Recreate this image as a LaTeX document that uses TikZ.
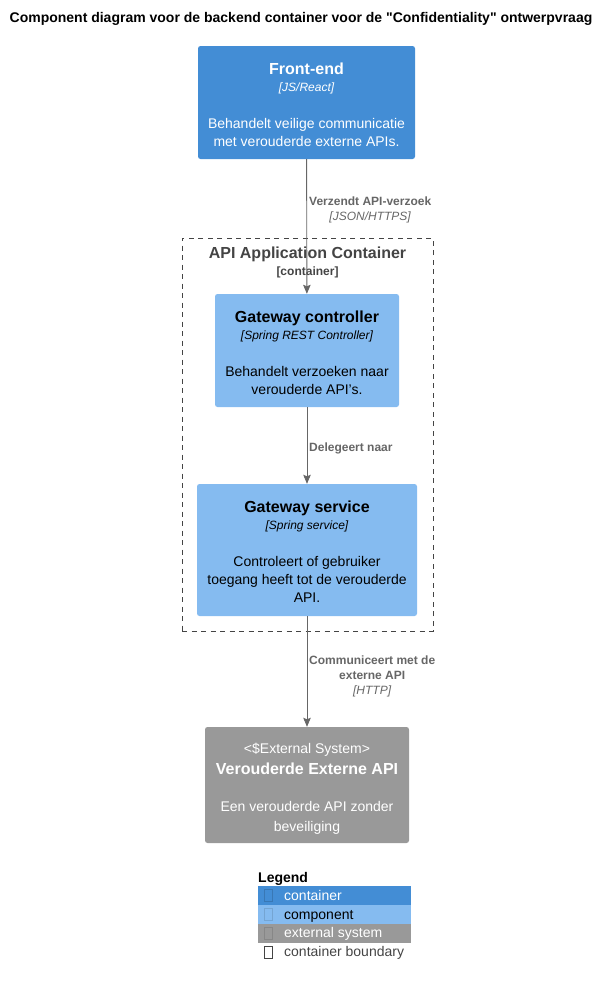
\documentclass[tikz,border=0pt]{standalone}
\usepackage{fontspec}
\setmainfont{Liberation Sans}
\usetikzlibrary{arrows.meta}
\definecolor{containerblue}{HTML}{438DD5}
\definecolor{componentblue}{HTML}{85BBF0}
\definecolor{extgray}{HTML}{999999}
\definecolor{relgray}{HTML}{666666}
\definecolor{boundgray}{HTML}{444444}

\newcommand{\topstrut}[1]{\rule{0pt}{#1}}
\newcommand{\elemtitle}[1]{{\fontsize{16}{18}\selectfont\bfseries #1}}
\newcommand{\elemtech}[1]{{\fontsize{12}{18}\selectfont\itshape [#1]}}

\begin{document}
\begin{tikzpicture}[x=1pt, y=-1pt,
	element/.style={rectangle, rounded corners=2.5pt, align=center, inner sep=0pt, font=\fontsize{14}{18}\selectfont},
	container/.style={element, fill=containerblue, text=white},
	component/.style={element, fill=componentblue, text=black},
	extsystem/.style={element, fill=extgray, text=white},
	boundary/.style={rectangle, draw=boundgray, dash pattern=on 5pt off 4.5pt, line width=0.8pt},
	rel/.style={draw=relgray, line width=0.9pt, -{Stealth[length=9pt, width=7.5pt, inset=1.5pt]}},
	rellabel/.style={anchor=west, text=relgray, align=center, inner sep=0pt, font=\fontsize{12}{15}\selectfont},
	legendrow/.style={rectangle, minimum width=153pt, minimum height=19pt, inner sep=0pt, anchor=north west},
	legendtext/.style={anchor=base west, inner sep=0pt, font=\fontsize{14}{16}\selectfont},
	tofu/.style={rectangle, minimum width=8pt, minimum height=12pt, inner sep=0pt, line width=0.5pt},
	]
	\useasboundingbox (0,0) rectangle (609,986);

	\node[font=\fontsize{14}{16}\selectfont\bfseries] (title) at (301, 19) {Component diagram voor de backend container voor de \textquotedbl Confidentiality\textquotedbl{} ontwerpvraag};

	\node[boundary, minimum width=251pt, minimum height=393pt] (appboundary) at (307.5, 434.5) {};
	\node[text=boundgray, font=\fontsize{16}{18}\selectfont\bfseries] (boundtitle) at (307.5, 254) {API Application Container};
	\node[text=boundgray, font=\fontsize{12}{14}\selectfont\bfseries] (boundtype) at (307.5, 272) {[container]};

	\node[container, minimum width=217pt, minimum height=113pt] (frontend) at (306.5, 102.5) {\topstrut{15.5pt}\elemtitle{Front-end}\\[-1pt]\elemtech{JS/React}\\[19pt]Behandelt veilige communicatie\\met verouderde externe APIs.};
	\node[component, minimum width=184pt, minimum height=113pt] (controller) at (307, 350.5) {\topstrut{15.5pt}\elemtitle{Gateway controller}\\[-1pt]\elemtech{Spring REST Controller}\\[19pt]Behandelt verzoeken naar\\verouderde API's.};
	\node[component, minimum width=220pt, minimum height=132pt] (service) at (307, 550) {\topstrut{15.5pt}\elemtitle{Gateway service}\\[-1pt]\elemtech{Spring service}\\[19pt]Controleert of gebruiker\\toegang heeft tot de verouderde\\API.};
	\node[extsystem, minimum width=204pt, minimum height=116pt] (legacyapi) at (307, 785) {\topstrut{18pt}<\$External System>\\[3pt]\elemtitle{Verouderde Externe API}\\[19pt]Een verouderde API zonder\\[2pt]beveiliging};

	\draw[rel] (frontend) to (controller);
	\draw[rel] (controller) to (service);
	\draw[rel] (service) to (legacyapi);

	\node[rellabel] (sendlabel) at (309, 209.5) {\textbf{Verzendt API-verzoek}\\\textit{[JSON/HTTPS]}};
	\node[rellabel] (delegatelabel) at (309, 448) {\textbf{Delegeert naar}};
	\node[rellabel] (commlabel) at (309, 676) {\textbf{Communiceert met de}\\\textbf{externe API}\\\textit{[HTTP]}};

	\node[legendtext, font=\fontsize{14}{16}\selectfont\bfseries] (legendtitle) at (258, 882) {Legend};
	\node[legendrow, fill=containerblue] (legcontainer) at (258, 886) {};
	\node[legendrow, fill=componentblue] (legcomponent) at (258, 905) {};
	\node[legendrow, fill=extgray] (legext) at (258, 924) {};
	\node[tofu, draw=containerblue!85!black] (tofucontainer) at (268, 895.5) {};
	\node[tofu, draw=componentblue!88!black] (tofucomponent) at (268, 914.5) {};
	\node[tofu, draw=extgray!88!black] (tofuext) at (268, 933.5) {};
	\node[tofu, draw=boundgray] (tofubound) at (268, 952) {};
	\node[legendtext, text=white] (txtcontainer) at (284, 900.5) {container};
	\node[legendtext, text=black] (txtcomponent) at (284, 919.5) {component};
	\node[legendtext, text=white] (txtext) at (284, 937.5) {external system};
	\node[legendtext, text=boundgray] (txtbound) at (284, 956.5) {container boundary};
\end{tikzpicture}
\end{document}
